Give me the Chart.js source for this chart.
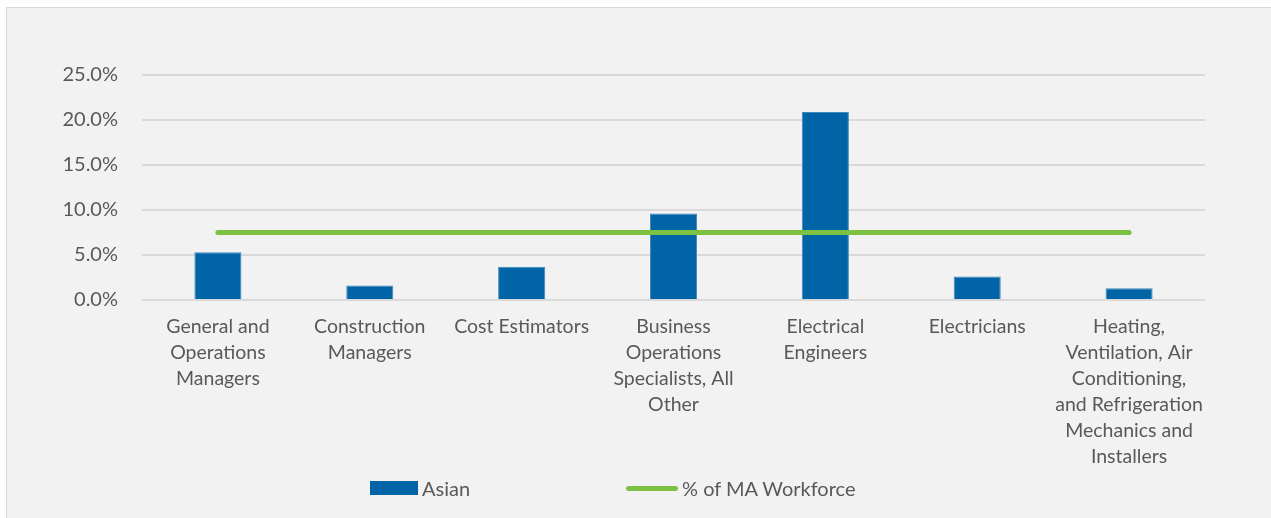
<!DOCTYPE html>
<html>
<head>
<meta charset="utf-8">
<script src="https://cdn.jsdelivr.net/npm/chart.js@4.4.1/dist/chart.umd.min.js"></script>
<style>
html,body{margin:0;padding:0;background:#fff;}
#wrap{position:relative;width:1271px;height:518px;overflow:hidden;}
#frame{position:absolute;left:6px;top:7px;width:1300px;height:560px;background:#F2F2F2;border:1px solid #D9D9D9;box-sizing:border-box;}
canvas{position:absolute;left:0;top:0;}
#legend{position:absolute;top:475px;left:0;width:1271px;height:26px;font-family:Lato,sans-serif;font-size:20px;color:#595959;}
.item{position:absolute;top:0;display:flex;align-items:center;height:26px;}
.sw-bar{width:48px;height:14px;background:#0064A6;margin-right:4px;}
.sw-line{width:52px;height:5px;border-radius:3px;background:#7DC142;margin-right:4px;}
</style>
</head>
<body>
<div id="wrap">
<div id="frame"></div>
<canvas id="c" width="1271" height="518"></canvas>
<div id="legend"></div>
</div>
<script>
const categories = [
  ["General and","Operations","Managers"],
  ["Construction","Managers"],
  ["Cost Estimators"],
  ["Business","Operations","Specialists, All","Other"],
  ["Electrical","Engineers"],
  ["Electricians"],
  ["Heating,","Ventilation, Air","Conditioning,","and Refrigeration","Mechanics and","Installers"]
];
const asianValues = [5.3, 1.6, 3.7, 9.6, 20.9, 2.6, 1.3];
const workforceValues = [7.5, 7.5, 7.5, 7.5, 7.5, 7.5, 7.5];
const seriesNames = ["Asian", "% of MA Workforce"];
const yTicks = [0, 5, 10, 15, 20, 25];

const fontFamily = "Lato, 'Open Sans', sans-serif";
const ctx = document.getElementById('c').getContext('2d');
const chart = new Chart(ctx, {
  data: {
    labels: categories,
    datasets: [
      {
        type: 'line',
        label: seriesNames[1],
        data: workforceValues,
        borderColor: '#7DC142',
        backgroundColor: '#7DC142',
        borderWidth: 5,
        borderCapStyle: 'round',
        pointRadius: 0,
        pointHoverRadius: 0,
        tension: 0,
        order: 0
      },
      {
        type: 'bar',
        label: seriesNames[0],
        data: asianValues,
        backgroundColor: '#0064A6',
        borderColor: '#3F88BE',
        borderWidth: 1,
        categoryPercentage: 1,
        barPercentage: 0.31,
        order: 1
      }
    ]
  },
  options: {
    responsive: false,
    animation: false,
    events: [],
    layout: { padding: { left: 0, top: 75, right: 66, bottom: 48 } },
    plugins: { legend: { display: false }, tooltip: { enabled: false } },
    scales: {
      x: {
        grid: { display: false, drawTicks: false },
        border: { display: false },
        ticks: {
          color: '#595959',
          font: { family: fontFamily, size: 19.5, lineHeight: '26px' },
          padding: 14,
          maxRotation: 0,
          autoSkip: false
        },
        afterFit: s => { s.height = 170; }
      },
      y: {
        min: 0, max: 25,
        afterBuildTicks: s => { s.ticks = yTicks.map(v => ({ value: v })); },
        grid: { color: '#D9D9D9', lineWidth: 2, drawTicks: false },
        border: { display: false },
        ticks: {
          color: '#595959',
          font: { family: fontFamily, size: 20 },
          padding: 24,
          callback: v => v.toFixed(1) + '%'
        },
        afterFit: s => { s.width = 142; }
      }
    }
  }
});

const legend = document.getElementById('legend');
const items = [
  { name: seriesNames[0], cls: 'sw-bar', left: 370 },
  { name: seriesNames[1], cls: 'sw-line', left: 626 }
];
items.forEach(it => {
  const d = document.createElement('div');
  d.className = 'item';
  d.style.left = it.left + 'px';
  const sw = document.createElement('span');
  sw.className = it.cls;
  const t = document.createElement('span');
  t.textContent = it.name;
  d.appendChild(sw); d.appendChild(t);
  legend.appendChild(d);
});
</script>
</body>
</html>
